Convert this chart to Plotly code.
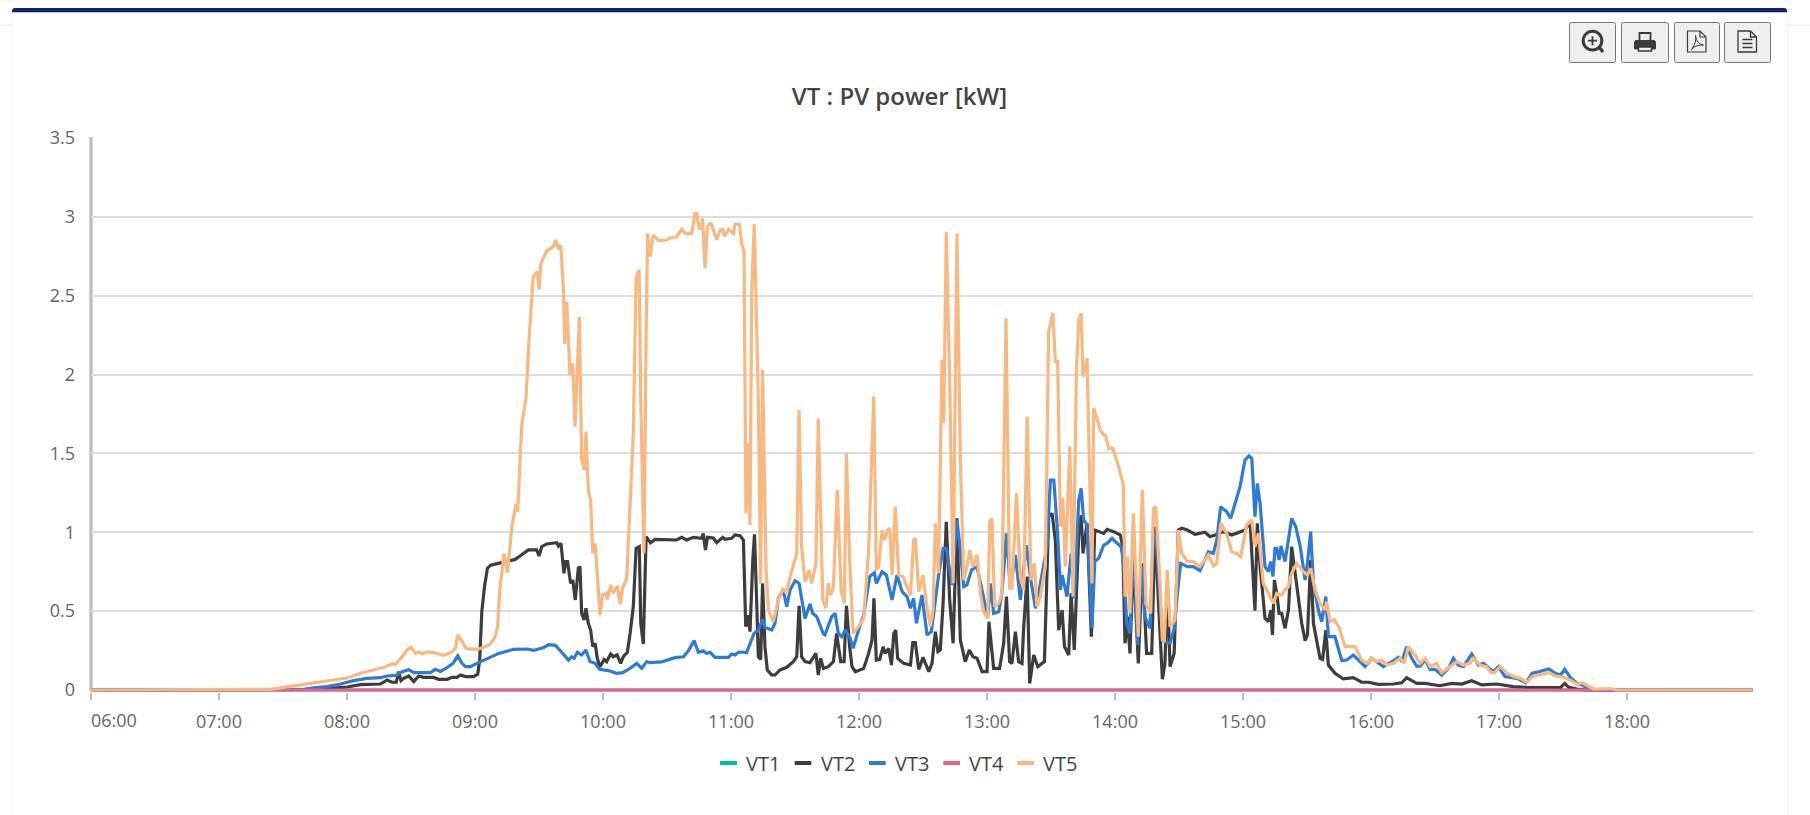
import pandas as pd
import plotly.graph_objects as go

W, H = 1810, 815
series_names = ["VT1", "VT2", "VT3", "VT4", "VT5"]
series_colors = ["#00bfa5", "#3d3d3d", "#2e7bd6", "#ec5f8e", "#f8b880"]
tick_hours = ["06:00", "07:00", "08:00", "09:00", "10:00", "11:00", "12:00", "13:00", "14:00", "15:00", "16:00", "17:00", "18:00"]
y_ticks = [0, 0.5, 1, 1.5, 2, 2.5, 3, 3.5]
y_labels = ["0", "0.5", "1", "1.5", "2", "2.5", "3", "3.5"]

# times are minutes after midnight
flat_minutes = [360, 1139]
vt1_values = [0, 0]
vt4_values = [0, 0]

vt2_minutes = [360, 468.3, 475.3, 480, 486.3, 495.6, 498.8, 501.1, 503.1, 504.2, 505.3, 506.6, 508.9, 511.3, 513.6, 515.9, 520.6, 523, 526.9, 529.2, 531.6, 533.1, 535.5, 539.4, 541.3, 542.2, 543.2, 544.5, 545.8, 547.3, 550.9, 554.8, 558.8, 561.1, 565, 568.9, 570, 571.3, 573.6, 578.3, 579.1, 580.3, 581.7, 582.5, 583.4, 584.8, 585.8, 587, 588.4, 589.2, 590, 591.1, 592, 593.1, 594.2, 595.2, 596.3, 597.3, 598.6, 600.5, 601.7, 603.6, 604.8, 606.6, 608.3, 609.5, 611.4, 612.7, 614.2, 615.5, 617, 617.7, 618.9, 620.2, 621.3, 622.3, 624.4, 634.5, 636.9, 639.2, 642.3, 646.3, 647, 648, 649, 651.7, 653.3, 656.1, 657.2, 660.3, 661.9, 664.2, 665.8, 666.9, 668, 668.9, 670.2, 671, 672, 672.8, 673.9, 674.8, 675.9, 677, 679.1, 680.6, 683, 686.1, 689.2, 690.8, 691.9, 693.1, 694.7, 697, 699.8, 700.9, 702, 703.3, 705.6, 708, 709.5, 711.4, 713, 714.1, 715.6, 716.7, 718.3, 722.2, 724.5, 726.1, 727, 728.1, 729.7, 731.3, 732.3, 733.9, 735.2, 736.3, 737.2, 738.1, 740.9, 744.1, 745.2, 746.4, 748, 750, 752.7, 754.2, 755.8, 757, 758.1, 759.4, 760.9, 762.5, 764.1, 765.9, 767.5, 769.8, 771.7, 773.4, 775.3, 777.7, 780, 780.9, 783.1, 785.9, 787.8, 789.1, 790.6, 791.7, 793.3, 794.8, 796.4, 797.2, 798.8, 800, 801.9, 803.8, 806.9, 808.9, 810.5, 812, 813.6, 815.2, 816.3, 818.3, 819.4, 820.9, 823, 824.1, 825, 826.9, 828.9, 830.5, 834.7, 836.3, 839.4, 842.5, 843.6, 844.7, 845.8, 847, 848.6, 850.9, 852.8, 854.8, 857.2, 858.8, 860.3, 862.2, 863.4, 864.5, 865.8, 867.7, 869.7, 871.3, 873.9, 877.5, 882.2, 884.5, 886.9, 890.8, 894.7, 898.6, 900.9, 903.3, 904.5, 905.6, 906.7, 908, 910.3, 911.9, 913, 913.8, 914.7, 915.8, 916.9, 918.1, 919.7, 921.3, 922.8, 925.2, 927.5, 929.1, 930.2, 931.7, 933, 936.1, 937.3, 938.8, 940, 943.1, 947, 951.7, 955.6, 958.8, 963.4, 970.5, 974.4, 976.7, 981.4, 985.3, 992.3, 997.8, 1002.5, 1007.2, 1011.9, 1018.9, 1026.7, 1033, 1043.9, 1048.8, 1050.8, 1052.7, 1056.6, 1061.3, 1139]
vt2_values = [0, .004, .013, .019, .034, .038, .063, .049, .049, .116, .059, .074, .089, .053, .089, .08, .08, .068, .068, .08, .08, .095, .085, .085, .101, .19, .5, .66, .771, .792, .803, .814, .828, .85, .888, .888, .85, .909, .926, .934, .913, .93, .74, .814, .814, .676, .697, .571, .771, .782, .486, .444, .518, .423, .38, .275, .296, .201, .148, .194, .18, .228, .211, .222, .169, .211, .239, .359, .528, .898, .909, .423, .292, .972, .951, .934, .955, .951, .968, .951, .968, .962, .993, .888, .968, .964, .934, .968, .955, .962, .983, .978, .951, .402, .475, .37, .824, .987, .571, .211, .194, .676, .275, .127, .095, .095, .127, .144, .18, .211, .533, .211, .18, .173, .232, .095, .201, .137, .148, .18, .359, .18, .18, .533, .275, .148, .116, .137, .232, .317, .581, .19, .194, .275, .232, .264, .158, .359, .38, .201, .169, .158, .3, .3, .131, .207, .116, .169, .37, .243, .254, .549, 1.067, .571, .296, 1.088, .317, .18, .254, .211, .201, .116, .116, .433, .137, .137, .296, .592, .18, .169, .37, .18, .169, .402, .719, .042, .222, .148, .18, 1.099, 1.12, .951, .38, .507, .275, .222, .613, .254, .993, 1.109, .866, 1.057, .338, 1.014, .993, 1.019, 1.004, .983, .909, .296, .465, .232, .845, .169, .803, .232, .232, 1.036, .571, .068, .169, .655, .148, .232, 1.014, 1.025, 1.014, .987, 1, .972, .983, 1.004, .983, 1, 1.014, 1.067, .782, .503, 1.057, .782, .454, .433, .507, .349, .697, .613, .486, .486, .391, .507, .909, .676, .423, .313, .349, .824, .423, .201, .194, .38, .158, .106, .07, .078, .049, .049, .036, .038, .046, .078, .042, .042, .027, .042, .038, .059, .032, .038, .021, .017, .017, .015, .042, .017, .006, 0, 0]

vt3_minutes = [360, 459.7, 464.4, 470.6, 476.9, 483.1, 489.4, 495.6, 498.8, 502.7, 505.8, 508.9, 511.3, 514.4, 519.1, 521.4, 523.8, 526.1, 529.7, 531.9, 533.9, 535.5, 537.8, 540.9, 545.6, 551.1, 558.1, 564.4, 567.5, 572.2, 574.5, 577.7, 580, 581.4, 583.8, 585.3, 586.4, 588, 590, 592, 593.9, 596.3, 598.3, 602.5, 606.4, 609.2, 612.7, 615.8, 618.1, 620.5, 622, 627.5, 629.8, 632.2, 634.5, 637.7, 640, 642.7, 644.7, 647, 648.6, 650.2, 652.5, 658.8, 660.3, 661.9, 663.4, 665.8, 667.3, 668.9, 670.8, 672.8, 674.8, 675.9, 679.1, 680.6, 682.2, 684.5, 686.1, 687.7, 690, 691.9, 693.1, 694.7, 697, 698.3, 700.2, 703.3, 704, 707.2, 708.8, 710.3, 711.9, 713.6, 715.9, 717.2, 719.8, 722.2, 725, 727.2, 728.1, 730.8, 732.8, 735.5, 737.8, 740.2, 742.5, 744.1, 745.6, 746.9, 749.5, 751.9, 753.9, 755.8, 757.3, 759.4, 760.9, 763.6, 765.9, 767.5, 769.1, 770.6, 772.7, 775.3, 777.7, 780.3, 781.6, 783.1, 785.5, 787, 789.1, 790.9, 793.3, 795.6, 798.4, 800.3, 802.7, 804.2, 806.3, 808.1, 809.7, 811.3, 813.1, 814.4, 815.2, 817.5, 819.4, 820.9, 823, 824.1, 825.3, 826.9, 829.2, 830.5, 832.3, 834.7, 836.3, 838.6, 841, 842.8, 843.9, 844.7, 845.5, 847, 848.6, 850.6, 852.5, 854, 856.4, 858, 859.5, 862.3, 863.4, 865.8, 867.7, 869.7, 870.8, 873.9, 876.7, 879.8, 883.8, 886.1, 887.7, 889.5, 892.3, 894.2, 897, 898.6, 900.9, 902.8, 904.1, 905.6, 906.7, 908, 910.3, 911.9, 913, 914, 915, 915.8, 916.9, 917.8, 919.7, 922.8, 924.7, 926.7, 929.1, 930.2, 931.7, 933, 935.3, 936.9, 938.8, 940, 943.1, 946.3, 948.6, 951.7, 954.1, 957.2, 960.3, 963.4, 965.8, 968.9, 972.8, 974.4, 976.7, 979.1, 981.4, 983, 985.3, 987.7, 990, 993.1, 996.3, 998.6, 1000.9, 1003.3, 1007.2, 1010.3, 1012.7, 1017.3, 1019.7, 1022.8, 1028.3, 1032.7, 1035.5, 1038.6, 1043.3, 1046.4, 1048.8, 1050.8, 1053.4, 1056.6, 1058.9, 1061.3, 1063.6, 1065.2, 1139]
vt3_values = [0, .004, .013, .021, .038, .059, .074, .078, .089, .093, .116, .129, .11, .11, .11, .131, .118, .135, .169, .216, .169, .148, .148, .169, .199, .232, .258, .26, .251, .27, .287, .283, .249, .228, .19, .211, .201, .239, .222, .254, .18, .169, .131, .123, .106, .11, .137, .169, .137, .18, .173, .178, .19, .199, .207, .211, .249, .313, .239, .249, .232, .239, .207, .207, .228, .222, .239, .241, .237, .296, .359, .38, .448, .397, .38, .423, .581, .634, .528, .634, .693, .676, .592, .454, .545, .486, .465, .355, .349, .465, .486, .359, .338, .38, .328, .264, .38, .475, .719, .744, .676, .75, .729, .571, .729, .623, .592, .518, .581, .423, .602, .349, .37, .592, .729, .898, .898, .666, 1.078, .888, .655, .666, .761, .782, .634, .465, .676, .486, .497, .613, .993, .645, .856, .571, .919, .719, .518, .613, .771, .909, 1.331, 1.331, .993, .634, .729, .592, .866, .581, 1.205, 1.279, 1.078, 1.046, .391, .814, .835, .919, .93, .962, .93, .909, .824, .581, .423, .359, .951, .285, .782, .465, .391, .993, .909, .317, .306, .296, .391, .676, .803, .782, .782, .757, .877, .866, .951, 1.162, 1.131, 1.088, 1.226, 1.289, 1.458, 1.484, 1.469, 1.099, 1.31, 1.183, .782, .75, .814, .719, .898, .898, .824, .913, .814, 1.088, 1.036, .919, .697, .803, 1.004, .676, .507, .433, .592, .338, .338, .186, .19, .222, .19, .148, .201, .169, .148, .173, .207, .18, .275, .201, .152, .152, .19, .131, .131, .095, .137, .201, .158, .148, .228, .158, .169, .116, .148, .085, .074, .046, .106, .116, .133, .106, .095, .131, .08, .042, .032, .011, .004, 0, 0]

vt5_minutes = [360, 444.1, 448.8, 455, 461.3, 467.5, 473.8, 480, 486.3, 492.5, 497.2, 501.1, 502.7, 505.8, 508.1, 510, 512, 513.6, 515.2, 517.5, 520.6, 525.3, 529.2, 530.8, 532, 533.9, 535.9, 540.9, 544.1, 547.2, 549.5, 550.6, 551.6, 552.5, 553.6, 555.2, 557.2, 559.2, 560, 561.4, 562, 563.9, 565.5, 567.3, 569.2, 570, 570.9, 573.6, 576.7, 577.8, 579.1, 580.2, 581.4, 582, 583, 584.5, 585.8, 586.9, 588.9, 590, 591.3, 592, 593.1, 594.2, 595.2, 596.3, 597, 598.6, 599.8, 601.4, 602, 603.6, 604.8, 606.7, 608, 609.2, 611.1, 612.7, 614.2, 615.5, 616.9, 617.7, 619.2, 620.2, 620.9, 622, 623.6, 625.9, 629.8, 631.4, 634.5, 636.9, 638.4, 641.6, 643.1, 643.9, 645, 646.3, 646.7, 647.8, 648.9, 650.5, 653.3, 654.8, 656.1, 656.9, 658.8, 661.1, 661.9, 663.9, 665, 666.1, 667, 668, 668.9, 669.7, 670.9, 672.8, 673.9, 674.8, 676.4, 677.5, 679.8, 682.2, 684.5, 686.1, 687.7, 690.8, 691.9, 693.1, 694.7, 696.7, 697.8, 699.8, 700.9, 703, 704.5, 705.6, 706.7, 708, 709.8, 711.6, 713.1, 714.1, 715.6, 717.2, 719.8, 722.2, 724.5, 726.9, 728.1, 729.2, 730.8, 731.9, 733.4, 734.4, 735.5, 737, 738.6, 740.6, 742.5, 744.1, 745.6, 746.4, 748, 750, 751.6, 753.4, 754.7, 755.8, 757.3, 758.9, 759.7, 760.9, 762.5, 764.1, 765.9, 767.5, 769.1, 770.6, 771.9, 773.4, 775.3, 776.9, 778.4, 780.3, 781.3, 782.3, 783.6, 785.5, 787, 788.9, 790.6, 791.7, 793.8, 795.6, 797.2, 798.8, 800.6, 802.2, 803.4, 805, 807.3, 808.9, 810.9, 812, 813.1, 814.4, 815.5, 816.7, 818.8, 820.3, 821.9, 823, 824.1, 825, 826.9, 829.2, 830, 833.1, 834.7, 835.5, 837, 839, 841.7, 843.9, 844.7, 845.8, 847, 848.6, 850.9, 852.8, 854.5, 856.7, 858, 859.1, 861.1, 862.2, 863.1, 864.5, 865.8, 868.1, 869.7, 871.3, 873.9, 876.7, 879.8, 883.8, 886.1, 887.7, 889.5, 892.3, 894.7, 897, 898.9, 901.7, 904.1, 905.6, 907.2, 909.5, 911.9, 914.2, 915.8, 918.1, 919.7, 921.3, 922.8, 925.2, 928.3, 930.2, 931.7, 933.8, 936.1, 938.4, 939.2, 940.8, 942.8, 945.2, 947.8, 950.2, 952.5, 955.6, 958, 960.3, 962.7, 965, 967.3, 970.5, 973.6, 975.5, 977.5, 980.6, 983, 985.3, 987.7, 990.8, 993.1, 997, 1000.2, 1003.3, 1006.4, 1008, 1011.1, 1014.2, 1015.9, 1017.8, 1020.6, 1023.8, 1026.9, 1030, 1033.1, 1035.5, 1038.6, 1043.3, 1046.4, 1050.3, 1053.4, 1056.6, 1058.9, 1061.3, 1064.4, 1069.1, 1073, 1075.3, 1139]
vt5_values = [0, .004, .013, .025, .038, .051, .063, .076, .106, .127, .144, .165, .161, .211, .254, .271, .233, .241, .228, .241, .237, .22, .241, .264, .349, .307, .262, .258, .271, .292, .338, .401, .634, .74, .866, .744, 1.025, 1.179, 1.131, 1.543, 1.691, 1.849, 2.261, 2.62, 2.652, 2.54, 2.705, 2.785, 2.811, 2.853, 2.794, 2.821, 2.557, 2.194, 2.462, 1.997, 2.071, 1.669, 2.367, 1.458, 1.395, 1.638, 1.268, 1.205, .866, .93, .803, .475, .602, .613, .575, .666, .613, .659, .545, .645, .708, 1.205, 1.627, 2.61, 2.663, 1.839, .866, 2.261, 2.895, 2.747, 2.885, 2.849, 2.853, 2.866, 2.874, 2.921, 2.895, 2.895, 3.022, 3.022, 2.927, 2.927, 2.99, 2.673, 2.937, 2.963, 2.857, 2.912, 2.921, 2.878, 2.921, 2.895, 2.954, 2.954, 2.832, 2.779, 1.12, 1.564, 1.046, 2.515, 2.954, 1.839, .676, 2.029, .782, .507, .433, .571, .645, .613, .719, .866, 1.775, .909, .687, .761, .676, .803, 1.722, .571, .518, .676, .602, .655, 1.268, .634, .549, 1.5, .824, .359, .402, .454, .888, 1.86, .761, .782, 1.014, .951, 1.014, 1.025, .729, 1.162, .729, .719, .655, .602, .951, .962, .623, .729, .549, .402, .507, 1.057, .74, 2.092, 1.691, 2.906, 1.965, .676, 2.895, 1.458, .697, .782, .888, .782, .856, .613, .497, .454, 1.067, 1.088, .528, .549, .613, 2.356, .645, .645, 1.247, .719, .634, 1.733, .697, .803, .528, .592, .782, 2.272, 2.392, 2.082, 2.082, 1.036, 1.215, .782, 1.543, .592, 2.029, 2.346, 2.388, 1.986, 2.103, .676, 1.786, 1.648, 1.617, 1.617, 1.532, 1.532, 1.416, 1.3, .592, .845, .486, 1.12, .338, 1.268, .549, .486, 1.152, 1.162, .676, .317, .306, .761, .402, .444, 1.014, .866, .814, .814, .782, .856, .788, .803, 1.057, .993, .877, .866, .845, 1.046, 1.078, .909, .993, .676, .613, .549, .613, .602, .634, .655, .74, .803, .75, .729, .771, .634, .549, .507, .56, .433, .448, .391, .275, .275, .275, .19, .169, .201, .18, .19, .158, .169, .201, .169, .275, .222, .169, .201, .148, .169, .11, .148, .18, .158, .169, .201, .158, .148, .116, .11, .148, .106, .085, .074, .049, .085, .095, .11, .089, .08, .063, .036, .046, .027, .006, .008, .008, 0, 0]

day = pd.Timestamp("2024-01-01")


def stamps(minutes):
    return [(day + pd.Timedelta(minutes=float(m))).strftime("%Y-%m-%d %H:%M:%S") for m in minutes]


def fx(x):
    return x / W


def fy(y):
    return 1 - y / H


def path(*cmds):
    out = []
    for c in cmds:
        if isinstance(c, str):
            out.append(c)
        else:
            out.append(f"{fx(c[0]):.5f} {fy(c[1]):.5f}")
    return " ".join(out)


FONT = "Open Sans, Noto Sans, sans-serif"
fig = go.Figure()
trace_data = [
    (flat_minutes, vt1_values),
    (vt2_minutes, vt2_values),
    (vt3_minutes, vt3_values),
    (flat_minutes, vt4_values),
    (vt5_minutes, vt5_values),
]
for name, color, (mins, vals) in zip(series_names, series_colors, trace_data):
    fig.add_trace(go.Scatter(x=stamps(mins), y=vals, mode="lines", name=name, showlegend=False, cliponaxis=False,
                             line=dict(color=color, width=3.2)))

shapes = []
annotations = []


def rect(x0, y0, x1, y1, fill="rgba(0,0,0,0)", line=None, width=1, layer="above"):
    shapes.append(dict(type="rect", xref="paper", yref="paper", x0=fx(x0), x1=fx(x1), y0=fy(y0), y1=fy(y1),
                       fillcolor=fill, line=dict(color=line or "rgba(0,0,0,0)", width=width if line else 0), layer=layer))


def stroke(d, color="#3a3a3a", width=1.2, fill="rgba(0,0,0,0)"):
    shapes.append(dict(type="path", xref="paper", yref="paper", path=d, line=dict(color=color, width=width),
                       fillcolor=fill, layer="above"))


# page furniture
rect(0, 24.5, 12, 26, fill="#eeeeee", layer="below")
rect(1787, 24.5, 1810, 26, fill="#eeeeee", layer="below")
rect(11.5, 12, 12.5, 815, fill="#f3f3f3", layer="below")
rect(1787, 12, 1788, 815, fill="#f3f3f3", layer="below")
stroke(path("M", (12, 12.3), "L", (12, 11), "Q", (12, 8), (15, 8), "L", (1784, 8), "Q", (1787, 8), (1787, 11), "L", (1787, 12.3), "Z"),
       color="#0e2470", width=0, fill="#0e2470")

# y axis rule, centred on the 06:00 position
rect(89.4, 137, 92.6, 691, fill="#bbbbbb", layer="below")

# toolbar buttons
for x0, x1 in [(1569.5, 1615.5), (1621.5, 1668.5), (1674.5, 1719.5), (1724.5, 1770.5)]:
    stroke(path("M", (x0 + 2, 22.5), "L", (x1 - 2, 22.5), "Q", (x1, 22.5), (x1, 24.5), "L", (x1, 60.5), "Q", (x1, 62.5), (x1 - 2, 62.5),
                "L", (x0 + 2, 62.5), "Q", (x0, 62.5), (x0, 60.5), "L", (x0, 24.5), "Q", (x0, 22.5), (x0 + 2, 22.5), "Z"),
           color="#767676", width=1, fill="#efefef")
# magnifier
shapes.append(dict(type="circle", xref="paper", yref="paper", x0=fx(1583.2), x1=fx(1601.8), y0=fy(31.3), y1=fy(50),
                   line=dict(color="#3a3a3a", width=3), fillcolor="rgba(0,0,0,0)", layer="above"))
stroke(path("M", (1599.5, 47.5), "L", (1603, 52)), width=3.2)
stroke(path("M", (1588, 40.7), "L", (1597, 40.7), "M", (1592.5, 36.2), "L", (1592.5, 45.2)), width=1.8)
# printer
stroke(path("M", (1639.5, 41), "L", (1639.5, 33), "L", (1650.5, 33), "L", (1650.5, 41)), width=1.8)
stroke(path("M", (1636, 40.5), "L", (1654, 40.5), "Q", (1655.5, 40.5), (1655.5, 43), "L", (1655.5, 49), "L", (1634.5, 49), "L", (1634.5, 43), "Q", (1634.5, 40.5), (1636, 40.5), "Z"),
       width=1, fill="#3a3a3a")
stroke(path("M", (1638.5, 47), "L", (1651.5, 47), "L", (1651.5, 51), "L", (1638.5, 51), "Z"), width=1.4, fill="#efefef")
# pdf page
stroke(path("M", (1687.5, 31), "L", (1700, 31), "L", (1706, 37), "L", (1706, 52), "L", (1687.5, 52), "Z", "M", (1700, 31), "L", (1700, 37), "L", (1706, 37)), width=1.2)
stroke(path("M", (1691.5, 49.5), "Q", (1697, 42), (1695.5, 35.5), "Q", (1696.5, 44), (1703.5, 45), "Q", (1696, 44.5), (1691.5, 49.5)), width=1)
# text page
stroke(path("M", (1738, 31), "L", (1750.5, 31), "L", (1756.5, 37), "L", (1756.5, 52), "L", (1738, 52), "Z", "M", (1750.5, 31), "L", (1750.5, 37), "L", (1756.5, 37)), width=1.3)
stroke(path("M", (1742.5, 39.5), "L", (1752.5, 39.5), "M", (1742.5, 43.5), "L", (1752.5, 43.5), "M", (1742.5, 47.5), "L", (1752.5, 47.5)), width=1.5)

# legend (compact keys as in the original chart)
key_spans = [(720, 737), (794.7, 811.3), (869, 885.7), (943.3, 960), (1017.3, 1034)]
label_starts = [746, 820.7, 895, 969, 1043.3]
for name, color, (a, b), tx in zip(series_names, series_colors, key_spans, label_starts):
    rect(a, 761, b, 765, fill=color)
    annotations.append(dict(xref="paper", yref="paper", x=fx(tx), y=fy(763), text=name, showarrow=False, xanchor="left",
                            yanchor="middle", xshift=-1, borderpad=0, font=dict(family=FONT, size=20, color="#444444")))

annotations.append(dict(xref="paper", yref="paper", x=fx(91), y=fy(720), text=tick_hours[0], showarrow=False, xanchor="left",
                        yanchor="middle", borderpad=0, xshift=-1, font=dict(family=FONT, size=18, color="#666666")))

# the axis starts a hair under zero so the zero lines are not cut in half
y_floor = -2 / (552 / 3.5)

fig.update_layout(
    template="none",
    width=W, height=H, autosize=False,
    margin=dict(l=0, r=0, t=0, b=0),
    paper_bgcolor="white", plot_bgcolor="rgba(0,0,0,0)",
    showlegend=False,
    title=dict(text="VT : PV power [kW]", x=fx(899.5), xanchor="center", y=fy(97), yanchor="middle",
               font=dict(family=FONT, size=24, color="#444444", weight=600)),
    xaxis=dict(type="date", domain=[fx(91), fx(1752.7)], automargin=False,
               range=[stamps([360])[0], stamps([1138.9])[0]],
               tickmode="array", tickvals=stamps([360 + 60 * i for i in range(13)]),
               ticktext=[""] + tick_hours[1:],
               ticks="outside", ticklen=7, tickwidth=2, tickcolor="#bbbbbb",
               showgrid=False, zeroline=False, showline=False,
               tickfont=dict(family=FONT, size=18, color="#666666"), ticklabelstandoff=6),
    yaxis=dict(domain=[fy(692), fy(138)], range=[y_floor, 3.5], automargin=False, tickmode="array", tickvals=y_ticks, ticktext=y_labels,
               ticks="", showgrid=True, gridcolor="#dddddd", gridwidth=2, zeroline=False,
               showline=False,
               tickfont=dict(family=FONT, size=18, color="#666666"), ticklabelstandoff=15),
    shapes=shapes, annotations=annotations,
)

fig.write_html("out.html", config={"displayModeBar": False}, post_script="document.body.style.margin='0';document.body.style.overflow='hidden';")
